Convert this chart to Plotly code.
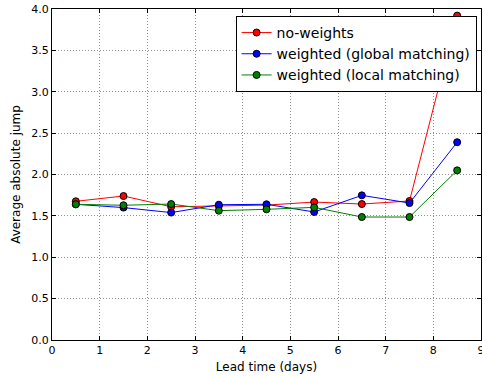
import plotly.graph_objects as go

lead_time = [0.5, 1.5, 2.5, 3.5, 4.5, 5.5, 6.5, 7.5, 8.5]
no_weights = [1.676, 1.74, 1.61, 1.62, 1.63, 1.667, 1.643, 1.68, 3.92]
weighted_global = [1.64, 1.60, 1.54, 1.635, 1.64, 1.547, 1.748, 1.655, 2.39]
weighted_local = [1.64, 1.628, 1.643, 1.563, 1.579, 1.603, 1.486, 1.486, 2.05]

series = [
    ("no-weights", no_weights, "#ff0000"),
    ("weighted (global matching)", weighted_global, "#0000ff"),
    ("weighted (local matching)", weighted_local, "#007f00"),
]

fig = go.Figure()
for name, vals, col in series:
    fig.add_trace(go.Scatter(
        x=lead_time, y=vals, name=name, mode="lines+markers",
        line=dict(color=col, width=1),
        marker=dict(color=col, size=7, line=dict(color="black", width=1)),
    ))

axis_common = dict(
    showline=True, linecolor="black", linewidth=1, mirror="allticks",
    ticks="inside", ticklen=4, tickcolor="black",
    showgrid=True, gridcolor="#909090", griddash="1px,2px", gridwidth=1,
    zeroline=False, tickfont=dict(family="DejaVu Sans", size=11, color="black"),
    ticklabeloverflow="allow",
)

fig.update_layout(
    width=482, height=376,
    margin=dict(l=52, r=1, t=9, b=36),
    paper_bgcolor="white", plot_bgcolor="white",
    font=dict(family="DejaVu Sans", color="black"),
    xaxis=dict(range=[0, 9], dtick=1, tick0=0, automargin=False,
               title=dict(text="Lead time (days)", font=dict(size=12), standoff=6),
               **axis_common),
    yaxis=dict(range=[0, 4], dtick=0.5, tick0=0, tickformat=".1f", automargin=False,
               title=dict(text="Average absolute jump", font=dict(size=12), standoff=8),
               **axis_common),
    legend=dict(x=0.428, y=0.979, xanchor="left", yanchor="top",
                bgcolor="white", bordercolor="black", borderwidth=1,
                font=dict(family="DejaVu Sans", size=14), tracegroupgap=0,
                itemwidth=30),
    showlegend=True,
)

fig.write_html("out.html")
